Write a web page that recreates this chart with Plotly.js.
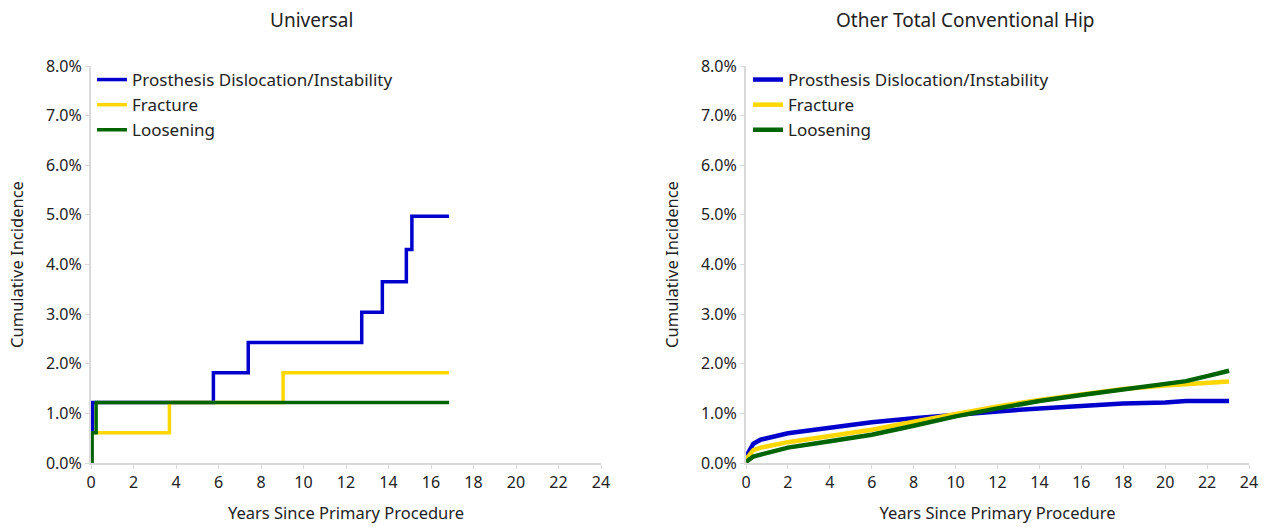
<!DOCTYPE html>
<html>
<head>
<meta charset="utf-8">
<script src="https://cdn.plot.ly/plotly-3.0.1.min.js"></script>
<style>html,body{margin:0;padding:0;background:#fff;}#chart{width:1277px;height:527px;}</style>
</head>
<body>
<div id="chart"></div>
<script>
// Series names
var seriesNames = ["Prosthesis Dislocation/Instability", "Fracture", "Loosening"];

// Universal (left) - step data
var uniDislX = [0, 0.03, 0.06, 5.76, 7.40, 12.74, 13.71, 14.84, 15.10, 16.85];
var uniDislY = [0, 0.61, 1.22, 1.82, 2.43, 3.04, 3.65, 4.30, 4.97, 4.97];
var uniFracX = [0, 0.02, 3.69, 9.04, 16.85];
var uniFracY = [0, 0.61, 1.22, 1.82, 1.82];
var uniLoosX = [0, 0.05, 0.24, 16.85];
var uniLoosY = [0, 0.61, 1.22, 1.22];

// Other Total Conventional Hip (right)
var othX     = [0, 0.1, 0.35, 0.7, 2, 4, 6, 8, 10, 12, 14, 16, 18, 20, 21, 22, 23.05];
var othDislY = [0.05, 0.20, 0.39, 0.47, 0.60, 0.72, 0.82, 0.90, 0.98, 1.04, 1.10, 1.15, 1.20, 1.22, 1.25, 1.25, 1.25];
var othFracY = [0.03, 0.13, 0.26, 0.31, 0.42, 0.54, 0.67, 0.83, 0.99, 1.14, 1.27, 1.39, 1.49, 1.56, 1.59, 1.61, 1.64];
var othLoosY = [0.02, 0.06, 0.13, 0.17, 0.31, 0.44, 0.57, 0.75, 0.94, 1.10, 1.25, 1.37, 1.48, 1.58, 1.65, 1.75, 1.86];

var colors = ["#0000CD", "#FFD700", "#006400"];
var FONT = "Noto Sans, Open Sans, sans-serif";
var W = 1277, H = 527;

function tr(x, y, i, xa, ya, lg, shape, lw) {
  return {x: x, y: y, type: "scatter", mode: "lines", name: seriesNames[i],
    line: {color: colors[i], width: lw, shape: shape},
    xaxis: xa, yaxis: ya, legend: lg, cliponaxis: true};
}

var data = [
  tr(uniDislX, uniDislY, 0, "x", "y", "legend", "hv", 3.5),
  tr(uniFracX, uniFracY, 1, "x", "y", "legend", "hv", 3.5),
  tr(uniLoosX, uniLoosY, 2, "x", "y", "legend", "hv", 3.5),
  tr(othX, othDislY, 0, "x2", "y2", "legend2", "linear", 4.5),
  tr(othX, othFracY, 1, "x2", "y2", "legend2", "linear", 4.5),
  tr(othX, othLoosY, 2, "x2", "y2", "legend2", "linear", 4.5)
];

var yTop = 1 - 66 / H, yBot = 1 - 463 / H;

function xax(d0, d1) {
  return {domain: [d0 / W, d1 / W], range: [0, 24], dtick: 2, tick0: 0,
    showline: true, linecolor: "#d9d9d9", linewidth: 2, showgrid: false, zeroline: false,
    ticks: "outside", ticklen: 4, tickcolor: "#d9d9d9", tickwidth: 1,
    tickfont: {family: FONT, size: 16, color: "#222"},
    title: {text: "Years Since Primary Procedure", font: {family: FONT, size: 16.5, color: "#222"}, standoff: 15},
    fixedrange: true};
}
function yax(anchor) {
  return {domain: [yBot, yTop], range: [0, 8], dtick: 1, tick0: 0, anchor: anchor,
    tickformat: ".1f", ticksuffix: "%",
    showline: true, linecolor: "#d9d9d9", linewidth: 2, showgrid: false, zeroline: false,
    ticks: "outside", ticklen: 4, tickcolor: "#d9d9d9", tickwidth: 1,
    tickfont: {family: FONT, size: 16, color: "#222"},
    title: {text: "Cumulative Incidence", font: {family: FONT, size: 16.5, color: "#222"}, standoff: 18},
    fixedrange: true};
}
function leg(xpx) {
  return {x: xpx / W, y: 1 - 62 / H, xanchor: "left", yanchor: "top",
    bgcolor: "rgba(0,0,0,0)", borderwidth: 0, itemwidth: 30, tracegroupgap: 0,
    font: {family: FONT, size: 17, color: "#222"}};
}

var xa1 = xax(91, 601); xa1.anchor = "y";
var xa2 = xax(746, 1249); xa2.anchor = "y2";

var layout = {
  width: W, height: H,
  margin: {l: 0, r: 0, t: 0, b: 0},
  paper_bgcolor: "#fff", plot_bgcolor: "#fff",
  font: {family: FONT, color: "#222"},
  showlegend: true,
  xaxis: xa1, yaxis: yax("x"),
  xaxis2: xa2, yaxis2: yax("x2"),
  legend: leg(92), legend2: leg(748),
  annotations: [
    {text: "Universal", x: 311 / W, y: 1 - 20 / H, xref: "paper", yref: "paper",
     xanchor: "center", yanchor: "middle", showarrow: false, font: {family: FONT, size: 19, color: "#222"}},
    {text: "Other Total Conventional Hip", x: 965 / W, y: 1 - 20 / H, xref: "paper", yref: "paper",
     xanchor: "center", yanchor: "middle", showarrow: false, font: {family: FONT, size: 19, color: "#222"}}
  ]
};

Plotly.newPlot("chart", data, layout, {displayModeBar: false, staticPlot: true});
</script>
</body>
</html>
